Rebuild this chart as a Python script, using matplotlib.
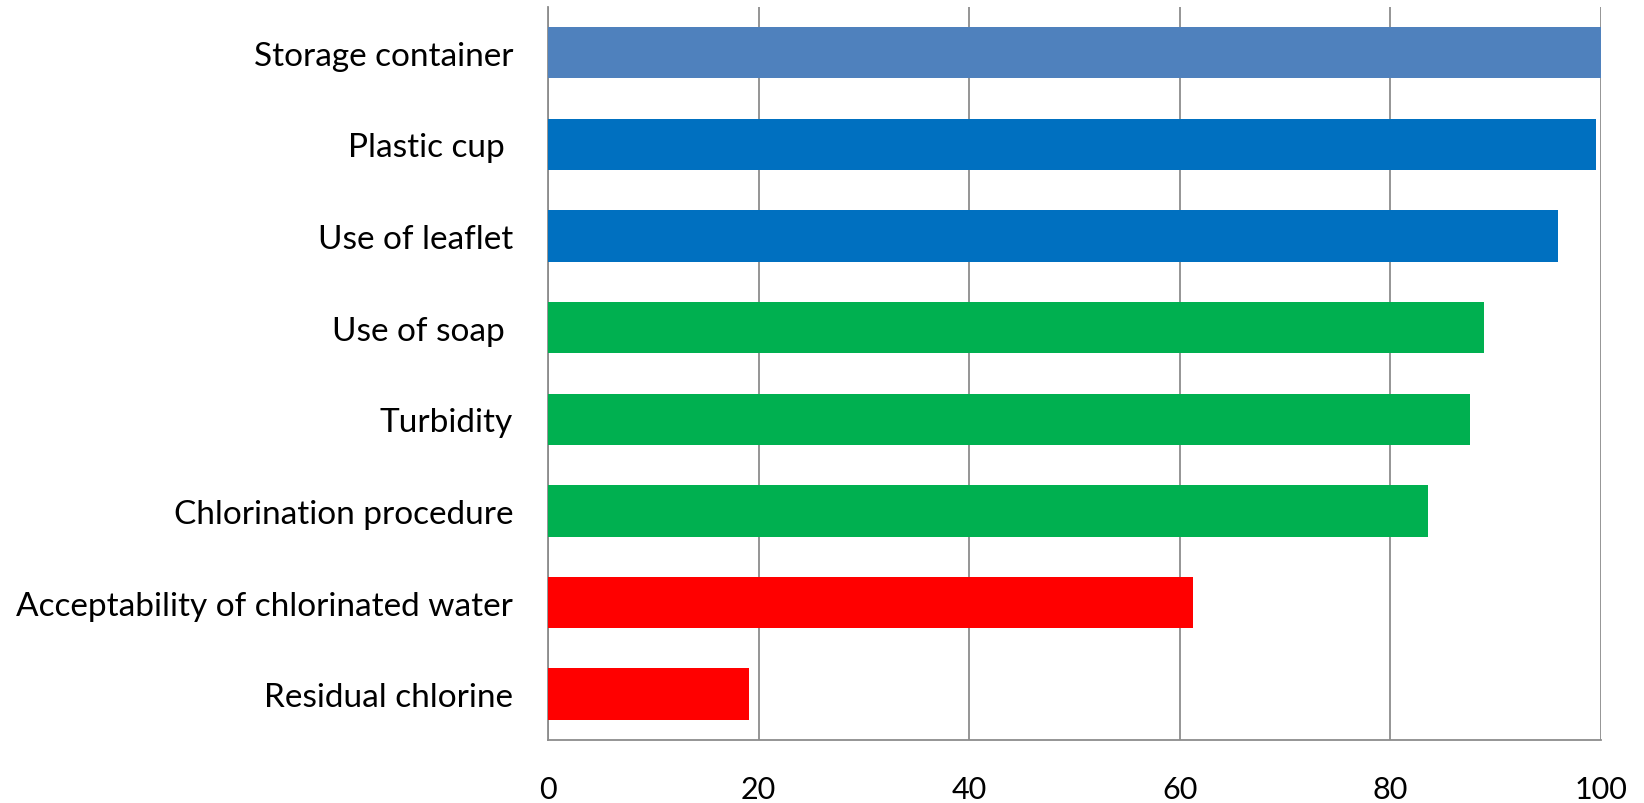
import numpy as np
import matplotlib
matplotlib.use("Agg")
from matplotlib import pyplot as plt

plt.rcParams['font.family'] = ['Lato', 'DejaVu Sans']

labels = ["Storage container", "Plastic cup ", "Use of leaflet", "Use of soap ",
          "Turbidity", "Chlorination procedure", "Acceptability of chlorinated water",
          "Residual chlorine"]
values = [100, 99.5, 95.9, 88.9, 87.6, 83.6, 61.3, 19.1]
colors = ["#4F81BD", "#0070C0", "#0070C0", "#00B050", "#00B050", "#00B050", "#FF0000", "#FF0000"]
xticks = [0, 20, 40, 60, 80, 100]

fig = plt.figure(figsize=(16.44, 8.04), dpi=100)
ax = fig.add_axes([0.3333, 0.0784, 0.6405, 0.9117])

y = np.arange(len(labels))
ax.barh(y, values, height=0.56, color=colors, zorder=3)
ax.set_ylim(len(labels) - 0.5, -0.5)
ax.set_xlim(0, 100)
ax.set_yticks(y)
ax.set_yticklabels(labels, fontsize=24)
ax.set_xticks(xticks)
ax.set_xticklabels([str(t) for t in xticks], fontsize=22)
ax.tick_params(axis='both', length=0)
ax.tick_params(axis='y', pad=25)
ax.tick_params(axis='x', pad=25)
ax.grid(axis='x', color='#8c8c8c', linewidth=1.3, zorder=0)
for s in ['top', 'right']:
    ax.spines[s].set_visible(False)
for s in ['left', 'bottom']:
    ax.spines[s].set_color('#8c8c8c')
    ax.spines[s].set_linewidth(1.3)

fig.savefig("out.png", dpi=100)
